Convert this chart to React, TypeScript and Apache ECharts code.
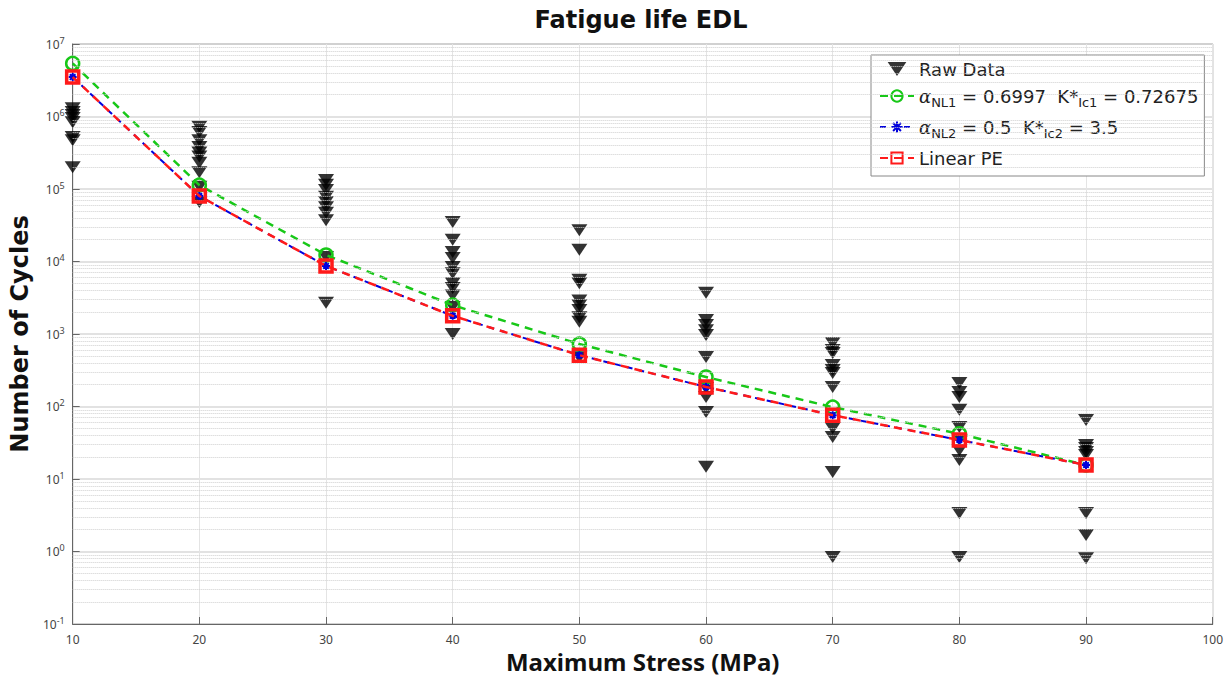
import React, { useEffect, useRef } from "react";
import * as echarts from "echarts";

const stresses = [10, 20, 30, 40, 50, 60, 70, 80, 90];
const xTicks = [10, 20, 30, 40, 50, 60, 70, 80, 90, 100];

const raw10 = [1.3e6, 1.15e6, 1.05e6, 9.5e5, 8.3e5, 5.2e5, 4.7e5, 2.0e5];
const raw20 = [7.2e5, 6.1e5, 4.7e5, 3.8e5, 3.2e5, 2.8e5, 2.3e5, 1.7e5, 1.07e5, 6.6e4];
const raw30 = [1.33e5, 1.14e5, 9.7e4, 7.8e4, 6.6e4, 5.6e4, 4.7e4, 3.7e4, 1.15e4, 2.7e3];
const raw40 = [3.5e4, 2.0e4, 1.35e4, 1.12e4, 8.4e3, 6.9e3, 5.0e3, 4.3e3, 3.4e3, 2.35e3, 1.0e3];
const raw50 = [2.7e4, 1.45e4, 5.6e3, 5.0e3, 2.9e3, 2.5e3, 2.15e3, 1.7e3, 1.47e3, 478];
const raw60 = [3.7e3, 1.56e3, 1.33e3, 1.13e3, 970, 482, 180, 135, 84, 14.7];
const raw70 = [752, 602, 547, 373, 318, 290, 186, 50, 38, 12.5, 0.84];
const raw80 = [211, 158, 135, 90, 52, 35, 25, 18.3, 3.4, 0.84];
const raw90 = [65, 29.4, 26.8, 23.6, 21.4, 3.4, 1.69, 0.81];
const rawByStress = [raw10, raw20, raw30, raw40, raw50, raw60, raw70, raw80, raw90];

const nl1 = [5.4e6, 1.13e5, 1.23e4, 2.5e3, 728, 255, 98, 42, 15.6];
const nl2 = [3.5e6, 8.0e4, 8.7e3, 1.78e3, 510, 186, 76, 34.5, 15.6];
const linearPE = [3.5e6, 8.0e4, 8.7e3, 1.78e3, 510, 186, 76, 34.5, 15.6];

// minor grid positions (2..9 × decade) for the log axis
const minorMultipliers = [2, 3, 4, 5, 6, 7, 8, 9];
const decades = [-1, 0, 1, 2, 3, 4, 5, 6];

const FONT = "Noto Sans";
const LFONT = "DejaVu Sans";

export default function App() {
  const ref = useRef<HTMLDivElement>(null);
  useEffect(() => {
    document.body.style.margin = "0";
    const chart = echarts.init(ref.current!, null, { renderer: "svg" });

    const rawPoints: number[][] = [];
    stresses.forEach((s, i) => rawByStress[i].forEach((v) => rawPoints.push([s, v])));
    const pair = (arr: number[]) => stresses.map((s, i) => [s, arr[i]]);

    const minorLines: any[] = [];
    decades.forEach((d) =>
      minorMultipliers.forEach((m) => minorLines.push({ yAxis: m * Math.pow(10, d) }))
    );

    const subRich = {
      t: { fontSize: 18, color: "#222", fontFamily: LFONT },
      a: { fontSize: 18, color: "#222", fontFamily: "DejaVu Serif", fontStyle: "italic" },
      sub: { fontSize: 13, color: "#222", fontFamily: LFONT, padding: [13, 0, 0, 0] },
    };

    const option: any = {
      animation: false,
      backgroundColor: "#fff",
      graphic: [
        {
          type: "text",
          x: 641,
          y: 8,
          style: {
            text: "Fatigue life EDL",
            font: `bold 24px "${LFONT}"`,
            fill: "#111",
            textAlign: "center",
            textVerticalAlign: "top",
          },
        },
      ],
      grid: {
        left: 70,
        right: 13,
        top: 44,
        bottom: 58,
        show: true,
        borderColor: "#777",
        borderWidth: 1,
        backgroundColor: "transparent",
      },
      legend: {
        orient: "vertical",
        left: 871,
        top: 55,
        backgroundColor: "#fff",
        borderColor: "#888",
        borderWidth: 1,
        padding: [5, 6, 9, 8],
        itemGap: 9,
        itemWidth: 34,
        itemHeight: 14,
        data: ["Raw Data", "NL1", "NL2", "Linear PE"],
        textStyle: { fontSize: 18, color: "#222", fontFamily: LFONT, rich: subRich },
        formatter: (name: string) => {
          if (name === "NL1")
            return "{a|α}{sub|NL1}{t| = 0.6997  K*}{sub|Ic1}{t| = 0.72675}";
          if (name === "NL2") return "{a|α}{sub|NL2}{t| = 0.5  K*}{sub|Ic2}{t| = 3.5}";
          return "{t|" + name + "}";
        },
      },
      xAxis: {
        type: "value",
        min: 10,
        max: 100,
        interval: 10,
        name: "Maximum Stress (MPa)",
        nameLocation: "middle",
        nameGap: 24,
        nameTextStyle: { fontSize: 24, fontWeight: "bold", color: "#111", fontFamily: FONT },
        axisLine: { onZero: false, lineStyle: { color: "#666", width: 1 } },
        axisTick: { inside: true, length: 7, lineStyle: { color: "#666" } },
        axisLabel: {
          color: "#444",
          fontSize: 12,
          fontFamily: FONT,
          margin: 9,
          formatter: (v: number) => (xTicks.includes(v) ? String(v) : ""),
        },
        splitLine: { show: true, lineStyle: { color: "#e4e4e4", width: 1 } },
      },
      yAxis: {
        type: "log",
        logBase: 10,
        min: 0.1,
        max: 1e7,
        name: "Number of Cycles",
        nameLocation: "middle",
        nameGap: 37,
        nameTextStyle: { fontSize: 24, fontWeight: "bold", color: "#111", fontFamily: LFONT },
        axisLine: { onZero: false, lineStyle: { color: "#666", width: 1 } },
        axisTick: { inside: true, length: 7, lineStyle: { color: "#666" } },
        axisLabel: {
          margin: 8,
          formatter: (v: number) => "{b|10}{s|" + Math.round(Math.log10(v)) + "}",
          rich: {
            b: { fontSize: 12, color: "#444", fontFamily: FONT },
            s: { fontSize: 9, color: "#444", fontFamily: FONT, padding: [0, 0, 8, 0] },
          },
        },
        splitLine: { show: true, lineStyle: { color: "#d8d8d8", width: 1.5 } },
      },
      series: [
        {
          name: "minor-grid",
          type: "line",
          data: [],
          silent: true,
          z: 0,
          markLine: {
            silent: true,
            symbol: ["none", "none"],
            label: { show: false },
            lineStyle: { type: "dotted", color: "#cfcfcf", width: 1 },
            emphasis: { disabled: true },
            data: minorLines,
          },
        },
        {
          name: "Raw Data",
          type: "scatter",
          data: rawPoints,
          symbol: "path://M0,0 L16,0 L8,12 Z",
          symbolSize: [16, 12],
          itemStyle: { color: "#000" },
          z: 3,
        },
        {
          name: "NL1",
          type: "line",
          data: pair(nl1),
          symbol: "circle",
          symbolSize: 13,
          color: "#18c818",
          itemStyle: { color: "transparent", borderColor: "#18c818", borderWidth: 2.5 },
          lineStyle: { color: "#18c818", width: 2.5, type: [8, 6] },
          z: 4,
        },
        {
          name: "NL2",
          type: "line",
          data: pair(nl2),
          symbol: "path://M5,0 L5,10 M0,5 L10,5 M1.5,1.5 L8.5,8.5 M8.5,1.5 L1.5,8.5",
          symbolSize: 8,
          color: "#0000dd",
          itemStyle: { color: "#0000dd", borderColor: "#0000dd", borderWidth: 2 },
          lineStyle: { color: "#0000dd", width: 2, type: [6, 6] },
          z: 5,
        },
        {
          name: "Linear PE",
          type: "line",
          data: pair(linearPE),
          symbol: "rect",
          symbolSize: 12,
          color: "#ff1a1a",
          itemStyle: { color: "transparent", borderColor: "#ff1a1a", borderWidth: 3.5 },
          lineStyle: { color: "#ff1a1a", width: 2.5, type: [8, 6] },
          z: 6,
        },
      ],
    };
    chart.setOption(option);
    return () => chart.dispose();
  }, []);
  return <div ref={ref} style={{ width: 1226, height: 682 }} />;
}
